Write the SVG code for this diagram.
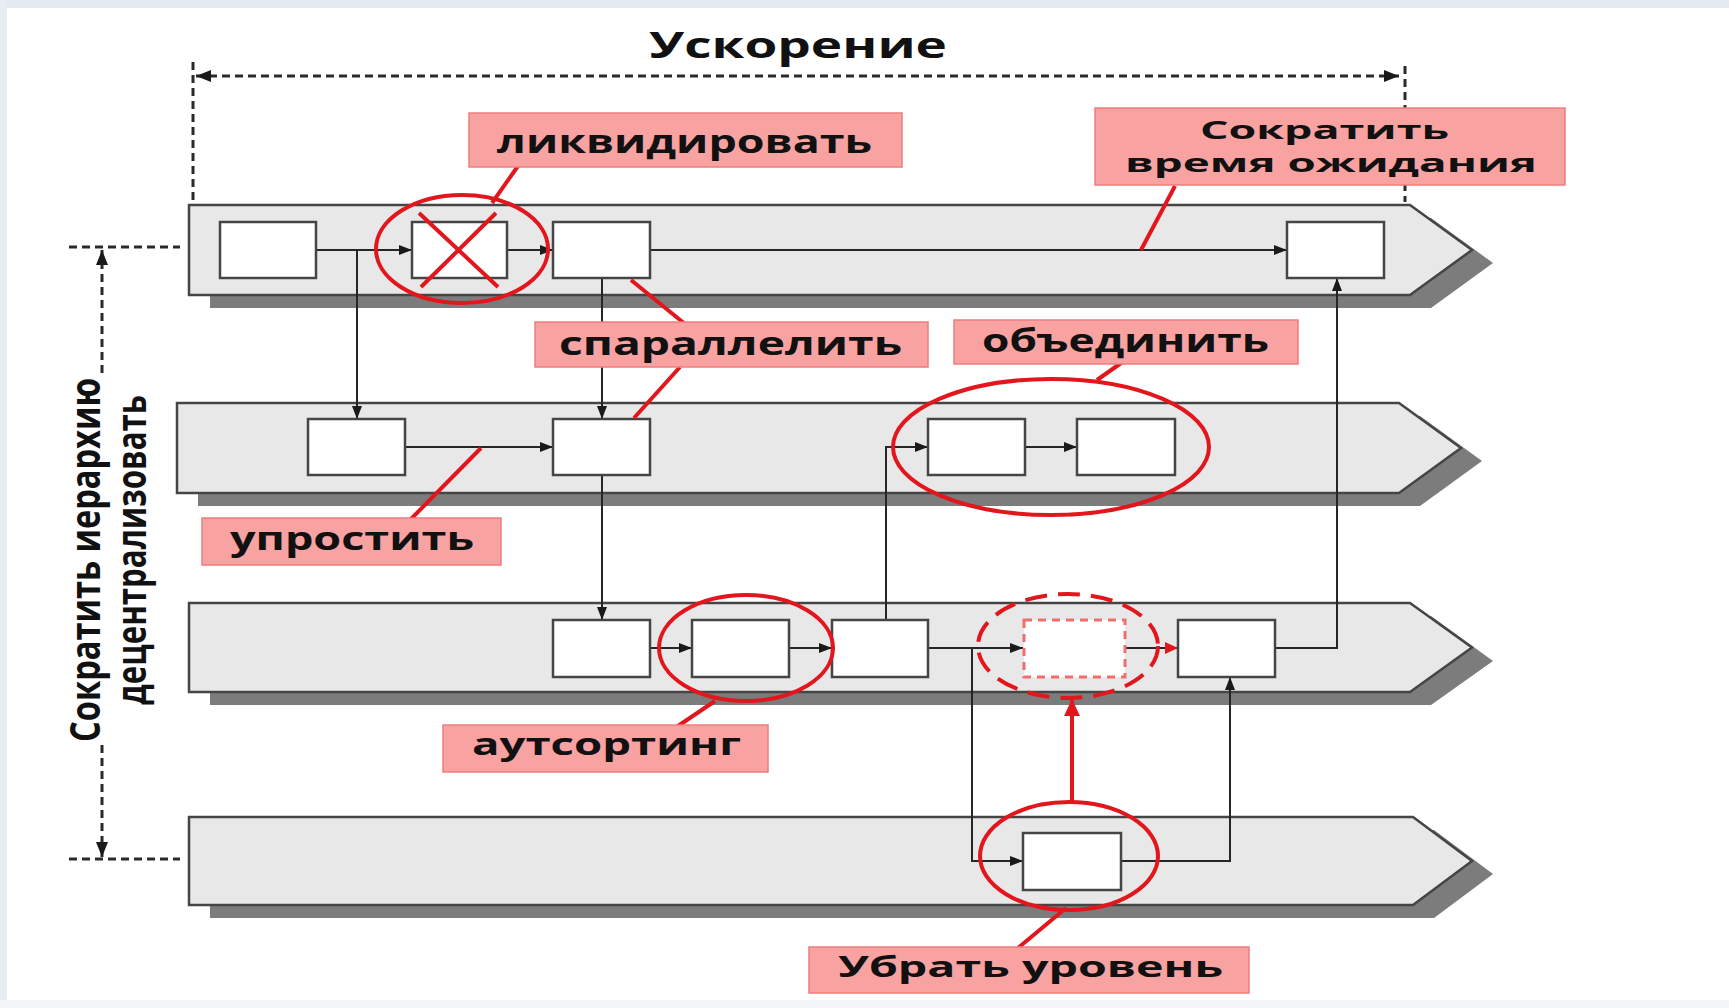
<svg xmlns="http://www.w3.org/2000/svg" width="1729" height="1008" viewBox="0 0 1729 1008">
<defs>
<style>
.lane{fill:#e8e8e8;stroke:#454545;stroke-width:2.5}
.shadow{fill:#7c7c7c}
.box{fill:#ffffff;stroke:#454545;stroke-width:2.5}
.con{fill:none;stroke:#262626;stroke-width:2}
.red{fill:none;stroke:#e2161c;stroke-width:4}
.lbl{fill:#f8a2a2;stroke:#f07c7c;stroke-width:1.5}
.t{font-family:"Open Sans","Liberation Sans",sans-serif;font-weight:700;fill:#111}
.dash{fill:none;stroke:#2a2a2a;stroke-width:3;stroke-dasharray:8 5}
</style>
<marker id="ar" markerUnits="userSpaceOnUse" markerWidth="14" markerHeight="10" refX="13" refY="5" orient="auto"><path d="M0,0 L13,5 L0,10 Z" fill="#1a1a1a"/></marker>
<marker id="ard" markerUnits="userSpaceOnUse" markerWidth="16" markerHeight="12" refX="15" refY="6" orient="auto-start-reverse"><path d="M0,0 L15,6 L0,12 Z" fill="#1a1a1a"/></marker>
<marker id="arr" markerUnits="userSpaceOnUse" markerWidth="14" markerHeight="12" refX="13" refY="6" orient="auto"><path d="M0,0 L13,6 L0,12 Z" fill="#e2161c"/></marker>
<marker id="arrb" markerUnits="userSpaceOnUse" markerWidth="18" markerHeight="16" refX="16" refY="8" orient="auto"><path d="M0,0 L17,8 L0,16 Z" fill="#e2161c"/></marker>
</defs>
<rect x="0" y="0" width="1729" height="1008" fill="#ffffff"/>
<rect x="0" y="0" width="1729" height="8" fill="#e3e9f1"/>
<rect x="0" y="0" width="7" height="1008" fill="#e8edf4"/>
<rect x="0" y="1000" width="1729" height="8" fill="#f3f5f8"/>

<g id="measures">
<path class="dash" d="M196,76 H1399" marker-start="url(#ard)" marker-end="url(#ard)"/>
<path class="dash" d="M193,62 V202" stroke-dasharray="6 6"/>
<path class="dash" d="M1405,66 V202" stroke-dasharray="6 6"/>
<path class="dash" d="M69,247 H180"/>
<path class="dash" d="M69,859 H180"/>
<path class="dash" d="M102,373 V250" marker-end="url(#ard)" stroke-dasharray="6 6"/>
<path class="dash" d="M102,745 V857" marker-end="url(#ard)" stroke-dasharray="6 6"/>
<text class="t" x="649" y="58" font-size="35" textLength="298" lengthAdjust="spacingAndGlyphs">Ускорение</text>
<text class="t" font-size="42" transform="translate(100,742) rotate(-90)" textLength="364" lengthAdjust="spacingAndGlyphs">Сократить иерархию</text>
<text class="t" font-size="42" transform="translate(146,705) rotate(-90)" textLength="310" lengthAdjust="spacingAndGlyphs">децентрализовать</text>
</g>

<g id="lanes">
<path class="shadow" d="M210,218 H1431 L1493,263 L1431,308 H210 Z"/>
<path class="lane" d="M189,205 H1410 L1472,250 L1410,295 H189 Z"/>
<path class="shadow" d="M198,416 H1420 L1482,461 L1420,506 H198 Z"/>
<path class="lane" d="M177,403 H1399 L1461,448 L1399,493 H177 Z"/>
<path class="shadow" d="M210,616 H1431 L1493,661 L1431,705 H210 Z"/>
<path class="lane" d="M189,603 H1410 L1472,647.5 L1410,692 H189 Z"/>
<path class="shadow" d="M210,830 H1434 L1493,874 L1434,918 H210 Z"/>
<path class="lane" d="M189,817 H1413 L1472,861 L1413,905 H189 Z"/>
</g>

<g id="connectors">
<path class="con" d="M316,250 H412" marker-end="url(#ar)"/>
<path class="con" d="M357,250 V419" marker-end="url(#ar)"/>
<path class="con" d="M507,250 H553" marker-end="url(#ar)"/>
<path class="con" d="M650,250 H1287" marker-end="url(#ar)"/>
<path class="con" d="M602,278 V419" marker-end="url(#ar)"/>
<path class="con" d="M405,447 H553" marker-end="url(#ar)"/>
<path class="con" d="M602,475 V620" marker-end="url(#ar)"/>
<path class="con" d="M886,620 V447 H928" marker-end="url(#ar)"/>
<path class="con" d="M1025,447 H1077" marker-end="url(#ar)"/>
<path class="con" d="M650,648 H692" marker-end="url(#ar)"/>
<path class="con" d="M789,648 H832" marker-end="url(#ar)"/>
<path class="con" d="M928,648 H1023" marker-end="url(#ar)"/>
<path class="con" d="M972,648 V861 H1023" marker-end="url(#ar)"/>
<path class="con" d="M1125,648 H1178" stroke="#e2161c" stroke-width="2" marker-end="url(#arr)"/>
<path class="con" d="M1275,648 H1337 V278" marker-end="url(#ar)"/>
<path class="con" d="M1121,861 H1230 V677" marker-end="url(#ar)"/>
</g>

<g id="box-a"><rect class="box" x="220" y="222" width="96" height="56"/></g>
<g id="box-b"><rect class="box" x="412" y="222" width="95" height="56"/></g>
<g id="box-c"><rect class="box" x="553" y="222" width="97" height="56"/></g>
<g id="box-d"><rect class="box" x="1287" y="222" width="97" height="56"/></g>
<g id="box-e"><rect class="box" x="308" y="419" width="97" height="56"/></g>
<g id="box-f"><rect class="box" x="553" y="419" width="97" height="56"/></g>
<g id="box-g"><rect class="box" x="928" y="419" width="97" height="56"/></g>
<g id="box-h"><rect class="box" x="1077" y="419" width="98" height="56"/></g>
<g id="box-i"><rect class="box" x="553" y="620" width="97" height="57"/></g>
<g id="box-j"><rect class="box" x="692" y="620" width="97" height="57"/></g>
<g id="box-k"><rect class="box" x="832" y="620" width="96" height="57"/></g>
<g id="box-l"><rect x="1024" y="620" width="101" height="57" fill="#ffffff" stroke="#f06e6e" stroke-width="3" stroke-dasharray="8 6"/></g>
<g id="box-m"><rect class="box" x="1178" y="620" width="97" height="57"/></g>
<g id="box-n"><rect class="box" x="1023" y="833" width="98" height="57"/></g>

<g id="annotations">
<ellipse class="red" cx="462" cy="249" rx="86" ry="54"/>
<path class="red" d="M419,213 L498,287 M496,213 L421,287"/>
<path class="red" d="M492,203 L518,166"/>
<path class="red" d="M1141,250 L1175,186"/>
<path class="red" d="M631,280 L685,324 M634,418 L680,367"/>
<path class="red" d="M481,448 L410,520"/>
<ellipse class="red" cx="1051" cy="447" rx="158" ry="68"/>
<path class="red" d="M1097,380 L1141,349"/>
<ellipse class="red" cx="746" cy="648" rx="87" ry="53"/>
<path class="red" d="M715,701 L675,728"/>
<ellipse class="red" cx="1068" cy="646" rx="90" ry="52" stroke-dasharray="22 11"/>
<ellipse class="red" cx="1069" cy="856" rx="89" ry="54"/>
<path class="red" d="M1072,802 V700" marker-end="url(#arrb)"/>
<path class="red" d="M1066,908 L1018,948"/>
</g>

<g id="label-likvid">
<rect class="lbl" x="469" y="113" width="433" height="54"/>
<text class="t" x="497" y="153" font-size="33" textLength="375" lengthAdjust="spacingAndGlyphs">ликвидировать</text>
</g>
<g id="label-wait">
<rect class="lbl" x="1095" y="108" width="470" height="77"/>
<text class="t" x="1200" y="139" font-size="25" textLength="249" lengthAdjust="spacingAndGlyphs">Сократить</text>
<text class="t" x="1125" y="172" font-size="25" textLength="412" lengthAdjust="spacingAndGlyphs">время ожидания</text>
</g>
<g id="label-parallel">
<rect class="lbl" x="535" y="322" width="393" height="45"/>
<text class="t" x="559" y="355" font-size="32" textLength="343" lengthAdjust="spacingAndGlyphs">спараллелить</text>
</g>
<g id="label-merge">
<rect class="lbl" x="954" y="320" width="344" height="44"/>
<text class="t" x="982" y="352" font-size="32" textLength="287" lengthAdjust="spacingAndGlyphs">объединить</text>
</g>
<g id="label-simplify">
<rect class="lbl" x="202" y="518" width="299" height="47"/>
<text class="t" x="230" y="550" font-size="33" textLength="244" lengthAdjust="spacingAndGlyphs">упростить</text>
</g>
<g id="label-outsourcing">
<rect class="lbl" x="443" y="725" width="325" height="47"/>
<text class="t" x="472" y="755" font-size="30" textLength="269" lengthAdjust="spacingAndGlyphs">аутсортинг</text>
</g>
<g id="label-level">
<rect class="lbl" x="809" y="947" width="440" height="46"/>
<text class="t" x="838" y="977" font-size="29" textLength="385" lengthAdjust="spacingAndGlyphs">Убрать уровень</text>
</g>
</svg>
